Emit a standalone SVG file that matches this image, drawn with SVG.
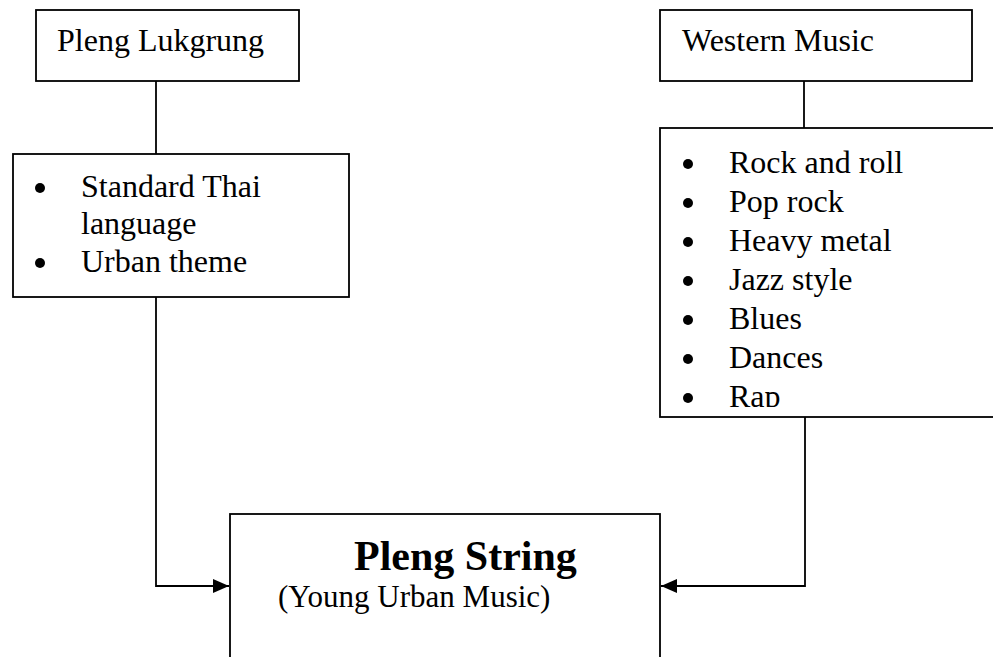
<svg xmlns="http://www.w3.org/2000/svg" width="993" height="657" viewBox="0 0 993 657">
<style>
.box{fill:#fff;stroke:#000;stroke-width:1.8}
.t{font-family:"Liberation Serif","Times New Roman",serif;font-size:32px;fill:#000}
.s{font-family:"Liberation Serif","Times New Roman",serif;font-size:31px;fill:#000}
.b{font-family:"Liberation Serif","Times New Roman",serif;font-size:42px;font-weight:bold;fill:#000}
.dot{fill:#000}
.ln{fill:none;stroke:#000;stroke-width:1.8}
</style>
<defs>
<marker id="arr" viewBox="0 0 16 14" refX="16" refY="7" markerWidth="16" markerHeight="14" markerUnits="userSpaceOnUse" orient="auto">
<path d="M0,0 L16,7 L0,14 Z" fill="#000"/>
</marker>
<clipPath id="clipR"><rect x="660" y="128" width="340" height="279"/></clipPath>
</defs>
<rect width="993" height="657" fill="#fff"/>
<g id="connectors">
<path class="ln" d="M156,81 V154"/>
<path class="ln" d="M804,81 V128"/>
<path class="ln" d="M156,297 V586 H229" marker-end="url(#arr)"/>
<path class="ln" d="M805,417 V586 H661" marker-end="url(#arr)"/>
</g>
<g id="pleng-lukgrung">
<rect class="box" x="36" y="10" width="263" height="71"/>
<text class="t" x="57" y="51">Pleng Lukgrung</text>
</g>
<g id="thai-features">
<rect class="box" x="13" y="154" width="336" height="143"/>
<circle class="dot" cx="40" cy="188" r="5"/>
<text class="t" x="81" y="197">Standard Thai</text>
<text class="t" x="81" y="234">language</text>
<circle class="dot" cx="40" cy="263" r="5"/>
<text class="t" x="81" y="272">Urban theme</text>
</g>
<g id="western-music">
<rect class="box" x="660" y="10" width="312" height="71"/>
<text class="t" x="682" y="51">Western Music</text>
</g>
<g id="western-styles">
<rect class="box" x="660" y="128" width="345" height="289"/>
<g clip-path="url(#clipR)">
<circle class="dot" cx="688" cy="164" r="5"/><text class="t" x="729" y="173">Rock and roll</text>
<circle class="dot" cx="688" cy="203" r="5"/><text class="t" x="729" y="212">Pop rock</text>
<circle class="dot" cx="688" cy="242" r="5"/><text class="t" x="729" y="251">Heavy metal</text>
<circle class="dot" cx="688" cy="281" r="5"/><text class="t" x="729" y="290">Jazz style</text>
<circle class="dot" cx="688" cy="320" r="5"/><text class="t" x="729" y="329">Blues</text>
<circle class="dot" cx="688" cy="359" r="5"/><text class="t" x="729" y="368">Dances</text>
<circle class="dot" cx="688" cy="398" r="5"/><text class="t" x="729" y="407">Rap</text>
</g>
</g>
<g id="pleng-string">
<rect class="box" x="230" y="514" width="430" height="160"/>
<text class="b" x="354" y="570">Pleng String</text>
<text class="s" x="278" y="607">(Young Urban Music)</text>
</g>
</svg>
